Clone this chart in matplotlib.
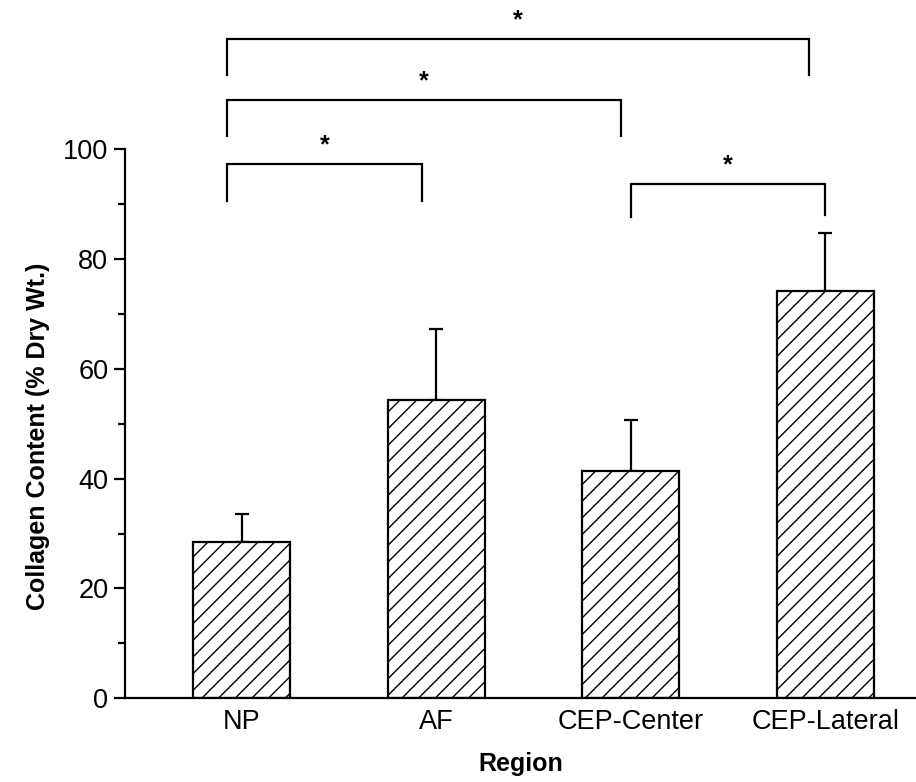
import matplotlib.pyplot as plt
from matplotlib.ticker import MultipleLocator

plt.rcParams['font.family'] = ['Liberation Sans', 'DejaVu Sans']
plt.rcParams['hatch.linewidth'] = 1.0

# data
regions = ["NP", "AF", "CEP-Center", "CEP-Lateral"]
collagen = [28.5, 54.3, 41.3, 74.2]
collagen_err = [5.1, 13.0, 9.4, 10.5]

# significance brackets: (left x, right x, bar height, leg bottom)
bracket_left = [0.923, 0.923, 0.923, 3.0]
bracket_right = [1.928, 2.948, 3.917, 4.0]
bracket_top = [97.3, 109.0, 120.1, 93.6]
bracket_leg = [90.5, 102.3, 113.4, 87.7]
bracket_leg_right = [90.5, 102.3, 113.4, 87.9]
bracket_label = ["*", "*", "*", "*"]

fig = plt.figure(figsize=(9.16, 7.82), dpi=100)
ax = fig.add_axes([0.1365, 0.107, 0.8635, 0.7025])

x = list(range(1, len(regions) + 1))
ax.bar(x, collagen, width=0.5, color="white", edgecolor="black",
       linewidth=1.6, hatch="//", zorder=2)
ax.errorbar(x, collagen, yerr=[[0] * len(collagen), collagen_err],
            fmt="none", ecolor="black", elinewidth=1.6, capsize=5,
            capthick=1.6, zorder=1)

for xl, xr, yt, yl, ylr, lab in zip(bracket_left, bracket_right, bracket_top,
                                     bracket_leg, bracket_leg_right, bracket_label):
    ax.plot([xl, xl, xr, xr], [yl, yt, yt, ylr], color="black", lw=1.6,
            clip_on=False, solid_joinstyle="miter")
    ax.text((xl + xr) / 2, yt + 1.2, lab, ha="center", va="bottom",
            fontsize=18, fontweight="bold")

ax.set_xlim(0.4, 4.466)
ax.set_ylim(0, 100)
ax.set_xticks(x)
ax.set_xticklabels(regions)
ax.yaxis.set_major_locator(MultipleLocator(20))
ax.yaxis.set_minor_locator(MultipleLocator(10))
ax.tick_params(axis="x", length=0, labelsize=19.5, pad=8)
ax.tick_params(axis="y", which="major", length=8, width=1.6, labelsize=19.5, pad=4)
ax.tick_params(axis="y", which="minor", length=5, width=1.6)

ax.spines["top"].set_visible(False)
ax.spines["right"].set_visible(False)
ax.spines["left"].set_linewidth(1.6)
ax.spines["bottom"].set_linewidth(1.6)

ax.set_xlabel("Region", fontsize=18, fontweight="bold", labelpad=12)
ax.set_ylabel("Collagen Content (% Dry Wt.)", fontsize=18, fontweight="bold")
ax.yaxis.set_label_coords(-0.095, 0.477)

fig.savefig("out.png", dpi=100)
